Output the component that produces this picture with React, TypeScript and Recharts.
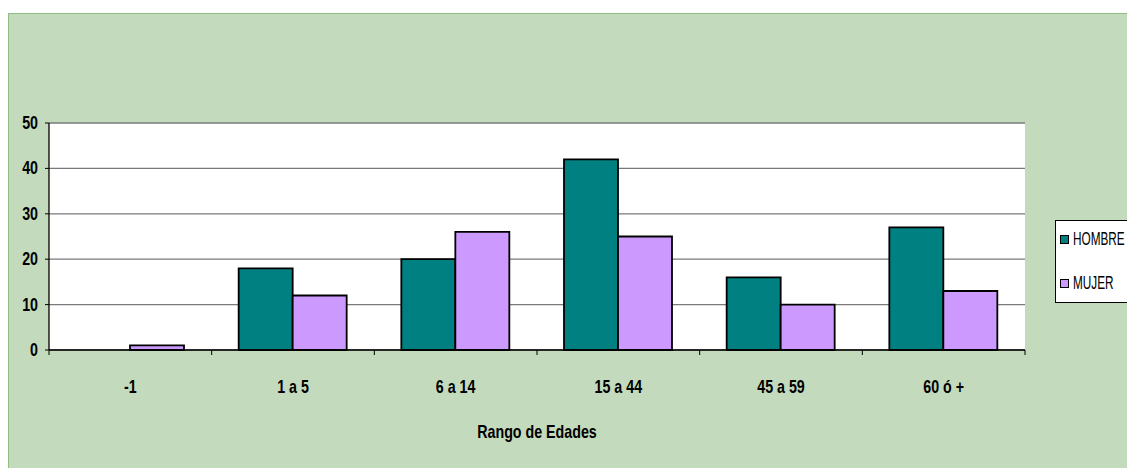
import React from "react";
import { BarChart, Bar, XAxis, YAxis, CartesianGrid, Legend, Label } from "recharts";

const categories = ["-1", "1 a 5", "6 a 14", "15 a 44", "45 a 59", "60 ó +"];
const hombre = [0, 18, 20, 42, 16, 27];
const mujer = [1, 12, 26, 25, 10, 13];
const yTicks = [0, 10, 20, 30, 40, 50];
const seriesNames = ["HOMBRE", "MUJER"];
const seriesColors = ["#008080", "#CC99FF"];
const axisTitle = "Rango de Edades";

const data = categories.map((c, i) => ({ name: c, HOMBRE: hombre[i], MUJER: mujer[i] }));

const FONT = "'Liberation Sans', Arial, sans-serif";
const SX = 0.75;

const XTick = (props: any) => {
  const { x, y, payload, index } = props;
  const off = payload && payload.offset ? payload.offset : 81.3;
  const ay = y - 5;
  return (
    <g>
      <line x1={x - off} y1={ay} x2={x - off} y2={ay + 5} stroke="#000" strokeWidth={1} />
      {index === categories.length - 1 && (
        <line x1={x + off} y1={ay} x2={x + off} y2={ay + 5} stroke="#000" strokeWidth={1} />
      )}
      <text
        transform={`translate(${x},${y + 38}) scale(${SX},1)`}
        x={0}
        y={0}
        textAnchor="middle"
        fontFamily={FONT}
        fontWeight="bold"
        fontSize={19}
        fill="#000"
      >
        {payload.value}
      </text>
    </g>
  );
};

const YTick = (props: any) => {
  const { x, y, payload } = props;
  return (
    <text
      transform={`translate(${x},${y + 6}) scale(${SX},1)`}
      x={0}
      y={0}
      textAnchor="end"
      fontFamily={FONT}
      fontWeight="bold"
      fontSize={19}
      fill="#000"
    >
      {payload.value}
    </text>
  );
};

const AxisTitle = (props: any) => {
  const vb = props.viewBox || {};
  const cx = (vb.x || 0) + (vb.width || 0) / 2;
  return (
    <text
      transform={`translate(${cx},438) scale(${SX},1)`}
      x={0}
      y={0}
      textAnchor="middle"
      fontFamily={FONT}
      fontWeight="bold"
      fontSize={19}
      fill="#000"
    >
      {axisTitle}
    </text>
  );
};

const LegendBox = () => (
  <div
    style={{
      width: 100,
      height: 81,
      background: "#fff",
      border: "1px solid #000",
      fontFamily: FONT,
      fontSize: 19,
      color: "#000",
      position: "relative",
      boxSizing: "content-box",
    }}
  >
    {seriesNames.map((n, i) => (
      <div
        key={n}
        style={{ position: "absolute", left: 4, top: 8 + i * 44, height: 20, display: "flex", alignItems: "center", whiteSpace: "nowrap" }}
      >
        <span style={{ display: "inline-block", width: 7, height: 7, background: seriesColors[i], border: "1px solid #000", marginRight: 4 }} />
        <span style={{ display: "inline-block", transform: "scaleX(0.62)", transformOrigin: "left center", lineHeight: "20px" }}>{n}</span>
      </div>
    ))}
  </div>
);

export default function App() {
  return (
    <div style={{ position: "absolute", left: 0, top: 0, width: 1127, height: 468, overflow: "hidden", background: "#fff" }}>
      <div
        style={{
          position: "absolute",
          left: 8,
          top: 13,
          right: 0,
          bottom: 0,
          background: "#c3dabc",
          borderTop: "1px solid #8fbf80",
          borderLeft: "1px solid #8fbf80",
        }}
      />
      <div style={{ position: "absolute", left: 0, top: 0 }}>
        <BarChart
          width={1127}
          height={468}
          data={data}
          margin={{ top: 123, right: 102, left: 9, bottom: 0 }}
          barCategoryGap="16.6%"
          barGap={0}
        >
          <CartesianGrid vertical={false} stroke="#7a7a7a" strokeWidth={1.3} fill="#ffffff" />
          <XAxis
            dataKey="name"
            height={118}
            tickLine={false}
            tickSize={5}
            tickMargin={0}
            axisLine={{ stroke: "#000", strokeWidth: 1.3 }}
            tick={<XTick />}
            interval={0}
          >
            <Label content={<AxisTitle />} />
          </XAxis>
          <YAxis
            width={40}
            domain={[0, 50]}
            ticks={yTicks}
            interval={0}
            tickSize={4}
            tickMargin={7}
            tickLine={{ stroke: "#000" }}
            axisLine={{ stroke: "#000", strokeWidth: 1.3 }}
            tick={<YTick />}
          />
          <Legend
            layout="horizontal"
            align="center"
            verticalAlign="middle"
            content={<LegendBox />}
            wrapperStyle={{ position: "absolute", left: 1055, top: 220, width: 110, height: 83 }}
          />
          <Bar dataKey="HOMBRE" fill={seriesColors[0]} stroke="#000" strokeWidth={1.8} isAnimationActive={false} />
          <Bar dataKey="MUJER" fill={seriesColors[1]} stroke="#000" strokeWidth={1.8} isAnimationActive={false} />
        </BarChart>
      </div>
    </div>
  );
}
